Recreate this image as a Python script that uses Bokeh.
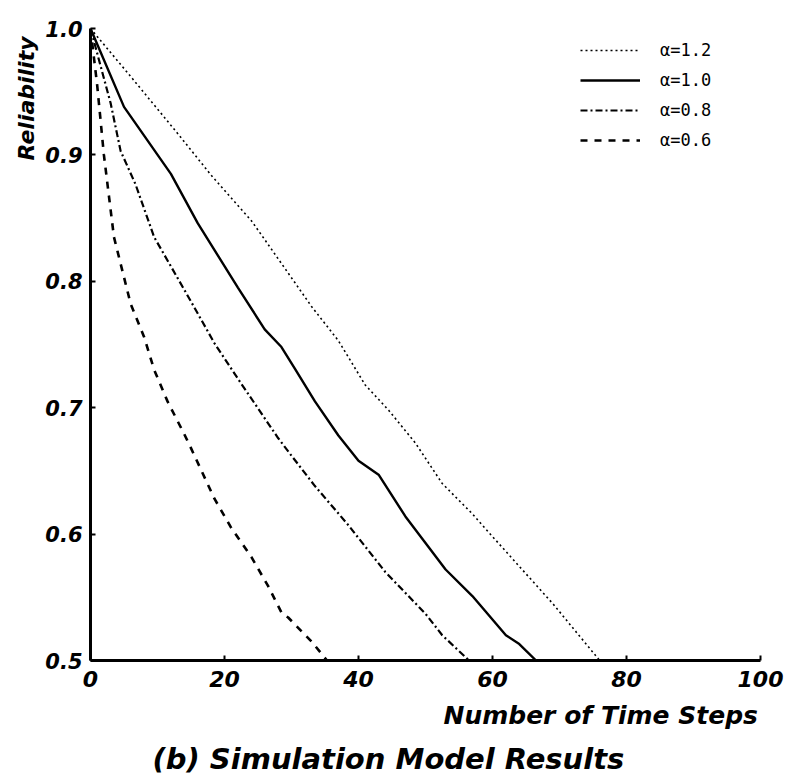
from bokeh.plotting import figure
from bokeh.models import FixedTicker, Title, Legend, LegendItem, NumeralTickFormatter
from bokeh.embed import file_html
from bokeh.resources import INLINE

# ---- data ----
t_12 = [0, 6, 13, 18, 24, 26, 30.5, 33, 37, 41, 44.5, 48.5, 52.5, 57, 59.5, 69, 76]
r_12 = [1.0, 0.962, 0.917, 0.884, 0.848, 0.833, 0.799, 0.780, 0.753, 0.718, 0.698, 0.672, 0.640, 0.616, 0.601, 0.545, 0.5]

t_10 = [0, 5, 12, 16, 22, 26, 28.5, 30.5, 33.5, 37, 40, 43, 47, 53, 57, 62, 64, 66.5]
r_10 = [1.0, 0.938, 0.885, 0.846, 0.795, 0.762, 0.748, 0.731, 0.705, 0.678, 0.658, 0.647, 0.614, 0.572, 0.551, 0.520, 0.513, 0.5]

t_08 = [0, 3, 4.5, 6.7, 9.5, 15, 18.5, 22.5, 28, 30, 33.5, 38.5, 44, 50, 52.5, 56.5]
r_08 = [1.0, 0.941, 0.903, 0.877, 0.835, 0.784, 0.751, 0.719, 0.676, 0.662, 0.638, 0.607, 0.570, 0.537, 0.520, 0.5]

t_06 = [0, 1, 2, 3.5, 6, 8, 9.5, 11.5, 14, 15, 18.5, 21, 24, 26.5, 28.5, 29.5, 33, 35.3]
r_06 = [1.0, 0.955, 0.90, 0.835, 0.782, 0.756, 0.730, 0.705, 0.679, 0.668, 0.628, 0.605, 0.582, 0.559, 0.538, 0.534, 0.515, 0.5]

series_labels = ["α=1.2", "α=1.0", "α=0.8", "α=0.6"]
x_ticks = [0, 20, 40, 60, 80, 100]
y_ticks = [0.5, 0.6, 0.7, 0.8, 0.9, 1.0]

FONT = "DejaVu Sans"

p = figure(width=806, height=784, x_range=(0, 100), y_range=(0.5, 1.0),
           output_backend="svg", toolbar_location=None,
           min_border_left=90, min_border_right=46, min_border_top=28, min_border_bottom=124)
p.outline_line_color = None
p.xgrid.visible = False
p.ygrid.visible = False
p.background_fill_color = "white"
p.border_fill_color = "white"

for ax in (p.xaxis[0], p.yaxis[0]):
    ax.axis_line_width = 3
    ax.axis_line_color = "black"
    ax.major_tick_in = 5
    ax.major_tick_out = 0
    ax.major_tick_line_width = 2
    ax.minor_tick_line_color = None
    ax.major_label_text_font = FONT
    ax.major_label_text_font_style = "bold italic"
    ax.major_label_text_color = "black"

p.xaxis.ticker = FixedTicker(ticks=x_ticks)
p.yaxis.ticker = FixedTicker(ticks=y_ticks)
p.xaxis.formatter = NumeralTickFormatter(format="0")
p.yaxis.formatter = NumeralTickFormatter(format="0.0")
p.xaxis.major_label_text_font_size = "22px"
p.yaxis.major_label_text_font_size = "21px"
p.xaxis.major_label_standoff = 10
p.yaxis.major_label_standoff = 8

r1 = p.line(t_12, r_12, line_color="black", line_width=1.6, line_dash="2 3")
r2 = p.line(t_10, r_10, line_color="black", line_width=2.4)
r3 = p.line(t_08, r_08, line_color="black", line_width=2.2, line_dash="7 3 2 3")
r4 = p.line(t_06, r_06, line_color="black", line_width=2.6, line_dash="7 7")

legend = Legend(items=[LegendItem(label=series_labels[0], renderers=[r1]),
                       LegendItem(label=series_labels[1], renderers=[r2]),
                       LegendItem(label=series_labels[2], renderers=[r3]),
                       LegendItem(label=series_labels[3], renderers=[r4])],
                location=(490, 510), glyph_width=60, glyph_height=20, label_height=20,
                label_standoff=20, spacing=10, padding=0, margin=0,
                border_line_color=None, background_fill_alpha=0,
                label_text_font="DejaVu Sans Mono", label_text_font_size="17px",
                label_text_color="black")
p.add_layout(legend)

p.add_layout(Title(text="Reliability", align="right", offset=8, standoff=8,
                   text_font=FONT, text_font_style="bold italic", text_font_size="22px",
                   text_color="black"), "left")
p.add_layout(Title(text="Number of Time Steps", align="left", offset=353, standoff=19,
                   text_font=FONT, text_font_style="bold italic", text_font_size="25px",
                   text_color="black"), "below")
p.add_layout(Title(text="(b) Simulation Model Results", align="left", offset=62, standoff=0,
                   text_font=FONT, text_font_style="bold italic", text_font_size="29px",
                   text_color="black"), "below")

open("out.html", "w").write(file_html(p, INLINE))
